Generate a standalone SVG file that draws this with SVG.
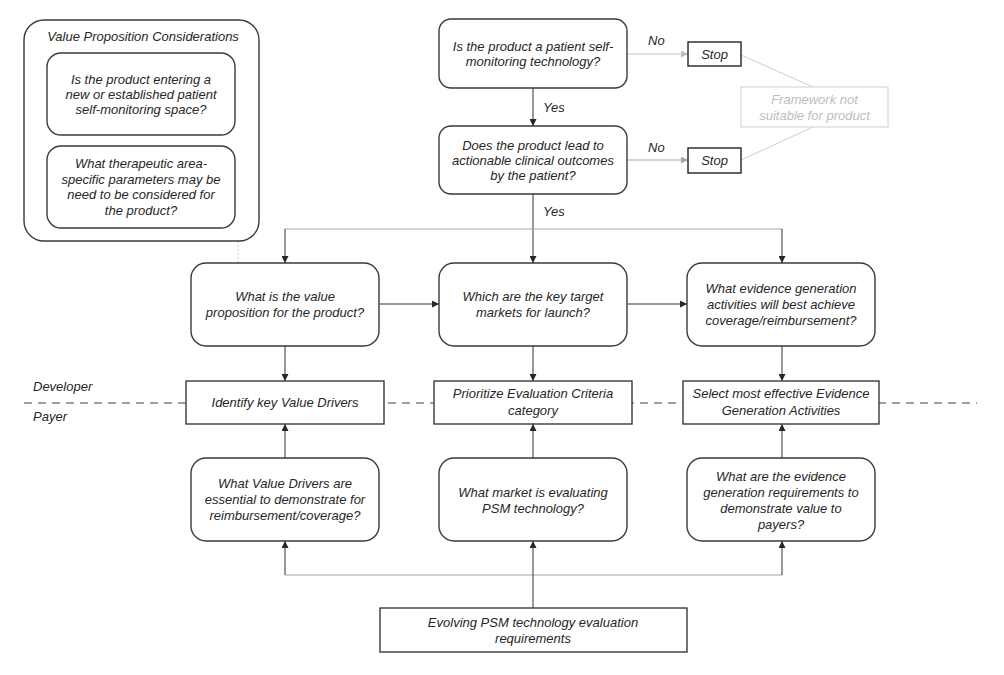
<svg xmlns="http://www.w3.org/2000/svg" width="1004" height="675" viewBox="0 0 1004 675">
<style>
.box{fill:#fff;stroke:#3a3a3a;stroke-width:1.4}
.t{font-family:"Liberation Sans",Arial,sans-serif;font-style:italic;font-size:13px;fill:#262626;text-anchor:middle}
.lbl{font-family:"Liberation Sans",Arial,sans-serif;font-style:italic;font-size:13px;fill:#262626}
.gt{font-family:"Liberation Sans",Arial,sans-serif;font-style:italic;font-size:13px;fill:#bdbdbd;text-anchor:middle}
.c{fill:none;stroke:#333;stroke-width:1;marker-end:url(#ah)}
.cg{fill:none;stroke:#a6a6a6;stroke-width:1}
.cl{fill:none;stroke:#cfcfcf;stroke-width:1}
</style>
<defs>
<marker id="ah" markerUnits="userSpaceOnUse" markerWidth="7" markerHeight="7" refX="7" refY="3.5" orient="auto"><path d="M0,0 L7,3.5 L0,7 z" fill="#262626"/></marker>
<marker id="ahg" markerUnits="userSpaceOnUse" markerWidth="7" markerHeight="7" refX="7" refY="3.5" orient="auto"><path d="M0,0 L7,3.5 L0,7 z" fill="#a6a6a6"/></marker>
<marker id="ahl" markerUnits="userSpaceOnUse" markerWidth="7" markerHeight="7" refX="7" refY="3.5" orient="auto"><path d="M0,0 L7,3.5 L0,7 z" fill="#bdbdbd"/></marker>
</defs>
<rect width="1004" height="675" fill="#fff"/>
<line x1="24" y1="403" x2="977" y2="403" stroke="#a0a0a0" stroke-width="2" stroke-dasharray="8,6"/>
<text class="lbl" x="33" y="391">Developer</text>
<text class="lbl" x="33" y="421">Payer</text>
<g id="connectors">
<path class="c" d="M533,88 V126"/>
<path class="cl" d="M627,54 H688" style="stroke:#c4c4c4;marker-end:url(#ahl)"/>
<path class="cg" d="M627,160 H688" style="marker-end:url(#ahg)"/>
<path class="cl" d="M741,55 L813,87"/>
<path class="cl" d="M741,160 L813,127"/>
<path class="c" d="M533,194 V263"/>
<path class="cg" d="M285,229 H782"/>
<path class="c" d="M285,229 V263"/>
<path class="c" d="M782,229 V263"/>
<path d="M238,241 V263" fill="none" stroke="#d0d0d0" stroke-width="1" stroke-dasharray="2,2"/>
<path class="c" d="M379,304 H439"/>
<path class="c" d="M627,304 H687"/>
<path class="c" d="M285,346 V381"/>
<path class="c" d="M533,346 V381"/>
<path class="c" d="M782,346 V381"/>
<path class="c" d="M285,458 V424"/>
<path class="c" d="M533,458 V424"/>
<path class="c" d="M782,458 V424"/>
<path class="cg" d="M285,575 H782"/>
<path class="c" d="M285,575 V541"/>
<path class="c" d="M782,575 V541"/>
<path class="c" d="M533,608 V541"/>
<text class="lbl" x="648" y="45">No</text>
<text class="lbl" x="648" y="152">No</text>
<text class="lbl" x="543" y="112">Yes</text>
<text class="lbl" x="543" y="216">Yes</text>
</g>
<g id="vpc">
<rect class="box" x="24" y="20" width="235" height="221" rx="20"/>
<text class="t" x="143" y="40.5">Value Proposition Considerations</text>
</g>
<g id="vpc1">
<rect class="box" x="47" y="53" width="188" height="82" rx="14"/>
<text class="t" x="141" y="84">Is the product entering a</text>
<text class="t" x="141" y="99">new or established patient</text>
<text class="t" x="141" y="114">self-monitoring space?</text>
</g>
<g id="vpc2">
<rect class="box" x="47" y="146" width="188" height="82" rx="14"/>
<text class="t" x="141" y="168">What therapeutic area-</text>
<text class="t" x="141" y="184">specific parameters may be</text>
<text class="t" x="141" y="199">need to be considered for</text>
<text class="t" x="141" y="215">the product?</text>
</g>
<g id="q1">
<rect class="box" x="439" y="19" width="188" height="69" rx="12"/>
<text class="t" x="533" y="50.5">Is the product a patient self-</text>
<text class="t" x="533" y="65.5">monitoring technology?</text>
</g>
<g id="q2">
<rect class="box" x="439" y="126" width="188" height="68" rx="12"/>
<text class="t" x="533" y="150">Does the product lead to</text>
<text class="t" x="533" y="165">actionable clinical outcomes</text>
<text class="t" x="533" y="180">by the patient?</text>
</g>
<g id="stop1">
<rect class="box" x="688" y="42" width="53" height="24" style="stroke:#222"/>
<text class="t" x="714.5" y="58.5">Stop</text>
</g>
<g id="stop2">
<rect class="box" x="688" y="148" width="53" height="25" style="stroke:#222"/>
<text class="t" x="714.5" y="165">Stop</text>
</g>
<g id="framework">
<rect x="741" y="87" width="147" height="40" fill="#fff" stroke="#cfcfcf" stroke-width="1"/>
<text class="gt" x="814.5" y="104">Framework not</text>
<text class="gt" x="814.5" y="120">suitable for product</text>
</g>
<g id="m1">
<rect class="box" x="191" y="263" width="188" height="83" rx="15"/>
<text class="t" x="285" y="301">What is the value</text>
<text class="t" x="285" y="317">proposition for the product?</text>
</g>
<g id="m2">
<rect class="box" x="439" y="263" width="188" height="83" rx="15"/>
<text class="t" x="533" y="301">Which are the key target</text>
<text class="t" x="533" y="317">markets for launch?</text>
</g>
<g id="m3">
<rect class="box" x="687" y="263" width="188" height="83" rx="15"/>
<text class="t" x="781" y="293">What evidence generation</text>
<text class="t" x="781" y="309">activities will  best achieve</text>
<text class="t" x="781" y="325">coverage/reimbursement?</text>
</g>
<g id="r1">
<rect class="box" x="186" y="381" width="198" height="43"/>
<text class="t" x="285" y="407">Identify key Value Drivers</text>
</g>
<g id="r2">
<rect class="box" x="434" y="381" width="198" height="43"/>
<text class="t" x="533" y="398">Prioritize Evaluation Criteria</text>
<text class="t" x="533" y="415">category</text>
</g>
<g id="r3">
<rect class="box" x="683" y="381" width="196" height="43"/>
<text class="t" x="781" y="398">Select most effective Evidence</text>
<text class="t" x="781" y="415">Generation Activities</text>
</g>
<g id="b1">
<rect class="box" x="191" y="458" width="188" height="83" rx="15"/>
<text class="t" x="285" y="488">What Value Drivers are</text>
<text class="t" x="285" y="504">essential to demonstrate for</text>
<text class="t" x="285" y="520">reimbursement/coverage?</text>
</g>
<g id="b2">
<rect class="box" x="439" y="458" width="188" height="83" rx="15"/>
<text class="t" x="533" y="497">What market is evaluating</text>
<text class="t" x="533" y="513">PSM technology?</text>
</g>
<g id="b3">
<rect class="box" x="687" y="458" width="188" height="83" rx="15"/>
<text class="t" x="781" y="481">What are the evidence</text>
<text class="t" x="781" y="497">generation requirements to</text>
<text class="t" x="781" y="513">demonstrate value to</text>
<text class="t" x="781" y="529">payers?</text>
</g>
<g id="evolving">
<rect class="box" x="380" y="608" width="307" height="44"/>
<text class="t" x="533" y="627">Evolving PSM technology evaluation</text>
<text class="t" x="533" y="643">requirements</text>
</g>
</svg>
